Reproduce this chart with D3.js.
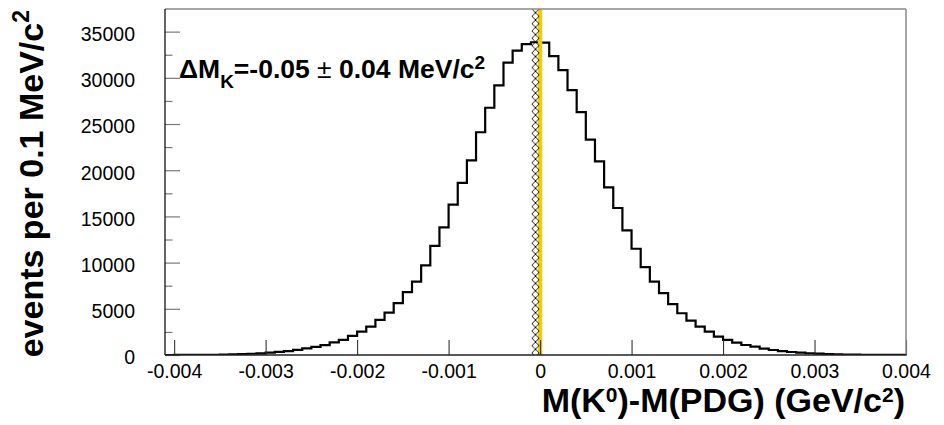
<!DOCTYPE html>
<html>
<head>
<meta charset="utf-8">
<script src="https://cdn.jsdelivr.net/npm/d3@7/dist/d3.min.js"></script>
<style>
  html, body { margin: 0; padding: 0; background: #fff; }
  svg { display: block; font-family: "Liberation Sans", Arial, sans-serif; }
</style>
</head>
<body>
<svg id="chart" width="944" height="425"></svg>
<script>
// ---------------- data ----------------
const binStart = -0.0041;
const binWidth = 0.0001;
// events per 0.1 MeV/c^2 bin, bins from -0.0041 to 0.0040 GeV/c^2
const counts = [
  2, 4, 6, 10, 16, 25, 40, 65, 95, 135,            // -0.0041 .. -0.0032
  185, 250, 330, 430, 550, 710, 870, 1060, 1360, 1630, // -0.0031 .. -0.0022
  2060, 2530, 3070, 3800, 4590, 5610, 6800, 7950, 9690, 11820, // -0.0021 .. -0.0012
  13810, 16270, 18620, 21070, 24110, 26760, 29180, 31640, 32940, 33650, // -0.0011 .. -0.0002
  33850,                                            // -0.0001
  33800, 32350, 30830, 28665, 26280, 23320, 20965, 18145, 15910, 13480, // 0.0000 .. 0.0009
  11500, 9510, 7950, 6690, 5500, 4520, 3720, 3070, 2530, 1985, // 0.0010 .. 0.0019
  1630, 1335, 1085, 900, 700, 540, 430, 325, 250, 190,  // 0.0020 .. 0.0029
  145, 105, 78, 55, 38, 26, 18, 12, 8, 5            // 0.0030 .. 0.0039
];
const binLow = counts.map((c, i) => +(binStart + i * binWidth).toFixed(5));

const xTickValues = [-0.004, -0.003, -0.002, -0.001, 0, 0.001, 0.002, 0.003, 0.004];
const yTickValues = [0, 5000, 10000, 15000, 20000, 25000, 30000, 35000];
const yMinorValues = [2500, 7500, 12500, 17500, 22500, 27500, 32500];

const deltaM = -0.00005;      // GeV/c^2
const deltaMErr = 0.00004;    // GeV/c^2
const pdgErr = 0.000024;      // GeV/c^2 (PDG band around 0)

const xDomain = [-0.0041, 0.0040];
const yDomain = [0, 37450];

// ---------------- layout ----------------
const L = 165, R = 906, T = 9, B = 355;
const svg = d3.select("#chart");
svg.append("rect").attr("width", 944).attr("height", 425).attr("fill", "#fff");

const x = d3.scaleLinear().domain(xDomain).range([L, R]);
const y = d3.scaleLinear().domain(yDomain).range([B, T]);

const defs = svg.append("defs");
defs.append("clipPath").attr("id", "plotclip")
  .append("rect").attr("x", L).attr("y", T).attr("width", R - L).attr("height", B - T);

// ---------------- histogram ----------------
const pts = [];
counts.forEach((c, i) => {
  pts.push([binLow[i], c]);
  pts.push([+(binLow[i] + binWidth).toFixed(5), c]);
});
const line = d3.line().x(d => x(d[0])).y(d => y(d[1]));
svg.append("path")
  .attr("clip-path", "url(#plotclip)")
  .attr("d", line(pts))
  .attr("fill", "none")
  .attr("stroke", "#000")
  .attr("stroke-width", 2.2)
  .attr("stroke-linejoin", "miter");

// ---------------- PDG band (yellow) ----------------
svg.append("rect")
  .attr("x", x(-pdgErr))
  .attr("y", T)
  .attr("width", x(pdgErr) - x(-pdgErr))
  .attr("height", B - T)
  .attr("fill", "#f0cf00");

// ---------------- measured band (cross-hatched) ----------------
const hx0 = x(deltaM - deltaMErr), hx1 = x(deltaM + deltaMErr);
const hw = hx1 - hx0;
const pat = defs.append("pattern")
  .attr("id", "xhatch")
  .attr("patternUnits", "userSpaceOnUse")
  .attr("x", hx0).attr("y", T)
  .attr("width", hw).attr("height", hw);
pat.append("path")
  .attr("d", `M0,0L${hw},${hw}M0,${hw}L${hw},0`)
  .attr("stroke", "#000")
  .attr("stroke-width", 0.9)
  .attr("fill", "none");
svg.append("rect")
  .attr("x", hx0).attr("y", T)
  .attr("width", hw).attr("height", B - T)
  .attr("fill", "url(#xhatch)");

// ---------------- axes ----------------
const fmtX = d => d === 0 ? "0" : (d < 0 ? "-" : "") + Math.abs(d).toFixed(3);

const yAxis = d3.axisLeft(y)
  .tickValues(yTickValues)
  .tickFormat(d3.format("d"))
  .tickSizeInner(-15).tickSizeOuter(0).tickPadding(30);
const gy = svg.append("g").attr("transform", `translate(${L},0)`).call(yAxis);
gy.select(".domain").remove();
gy.selectAll(".tick line").attr("stroke", "#7a7a7a").attr("stroke-width", 1.2);
gy.selectAll(".tick text")
  .attr("font-size", 19.5).attr("fill", "#000").attr("dy", "0.45em")
  .attr("font-family", "Liberation Sans, Arial, sans-serif");

const yMinor = d3.axisLeft(y).tickValues(yMinorValues).tickFormat("")
  .tickSizeInner(-7.5).tickSizeOuter(0);
const gym = svg.append("g").attr("transform", `translate(${L},0)`).call(yMinor);
gym.select(".domain").remove();
gym.selectAll(".tick line").attr("stroke", "#7a7a7a").attr("stroke-width", 1.2);

const xAxis = d3.axisBottom(x)
  .tickValues(xTickValues)
  .tickFormat(fmtX)
  .tickSizeInner(-15).tickSizeOuter(0).tickPadding(9);
const gx = svg.append("g").attr("transform", `translate(0,${B})`).call(xAxis);
gx.select(".domain").remove();
gx.selectAll(".tick line").attr("stroke", "#333").attr("stroke-width", 1.1);
gx.selectAll(".tick text")
  .attr("font-size", 19.5).attr("fill", "#000")
  .attr("font-family", "Liberation Sans, Arial, sans-serif");

// ---------------- frame ----------------
svg.append("line").attr("x1", L).attr("x2", R).attr("y1", T).attr("y2", T)
  .attr("stroke", "#8a8a8a").attr("stroke-width", 1.3);
svg.append("line").attr("x1", R).attr("x2", R).attr("y1", T).attr("y2", B)
  .attr("stroke", "#8a8a8a").attr("stroke-width", 1.5);
svg.append("line").attr("x1", L).attr("x2", L).attr("y1", T).attr("y2", B)
  .attr("stroke", "#111").attr("stroke-width", 1.3);
svg.append("line").attr("x1", L).attr("x2", R + 0.7).attr("y1", B).attr("y2", B)
  .attr("stroke", "#222").attr("stroke-width", 1.5);

// ---------------- titles ----------------
const yt = svg.append("text")
  .attr("transform", "translate(43,10) rotate(-90)")
  .attr("text-anchor", "end")
  .attr("font-size", 34).attr("font-weight", "bold").attr("fill", "#000");
yt.append("tspan").text("events per 0.1 MeV/c");
yt.append("tspan").attr("font-size", 23).attr("dy", -14).text("2");

const xt = svg.append("text")
  .attr("x", 905).attr("y", 412)
  .attr("text-anchor", "end")
  .attr("font-size", 34).attr("font-weight", "bold").attr("fill", "#000");
xt.append("tspan").text("M(K");
xt.append("tspan").attr("font-size", 21).attr("dy", -10).text("0");
xt.append("tspan").attr("dy", 10).text(")-M(PDG) (GeV/c");
xt.append("tspan").attr("font-size", 21).attr("dy", -10).text("2");
xt.append("tspan").attr("dy", 10).text(")");

// ---------------- annotation ----------------
const an = svg.append("text")
  .attr("x", 179).attr("y", 78)
  .attr("font-size", 26.5).attr("font-weight", "bold").attr("fill", "#000");
an.append("tspan").text("\u0394M");
an.append("tspan").attr("font-size", 19).attr("dy", 10).text("K");
an.append("tspan").attr("dy", -10).text("=-0.05 ");
an.append("tspan").attr("font-weight", "normal").text("\u00B1");
an.append("tspan").text(" 0.04 MeV/c");
an.append("tspan").attr("font-size", 19).attr("dy", -9).text("2");
</script>
</body>
</html>
